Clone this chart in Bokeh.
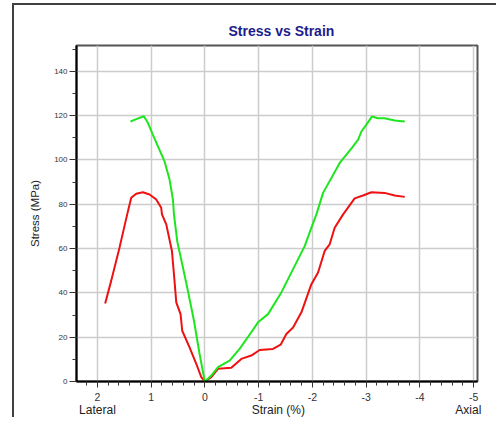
from bokeh.plotting import figure
from bokeh.models import Range1d, FixedTicker, LinearAxis
from bokeh.embed import file_html
from bokeh.resources import INLINE

# Data (strain %, stress MPa); positive strain = lateral, negative = axial
green_lat_x = [0.0, 0.007, 0.10, 0.205, 0.317, 0.423, 0.516, 0.577, 0.596, 0.659, 0.752, 0.875, 0.968, 1.06, 1.136, 1.28, 1.385]
green_lat_y = [0.0, 0.4, 12.4, 27.4, 40.9, 52.9, 63.3, 75.4, 82.1, 91.1, 99.3, 106.1, 111.3, 116.6, 119.7, 118.4, 117.3]

red_lat_x = [0.0, 0.069, 0.162, 0.287, 0.423, 0.454, 0.534, 0.577, 0.615, 0.72, 0.80, 0.814, 0.907, 1.03, 1.155, 1.279, 1.372, 1.447, 1.59, 1.745, 1.857]
red_lat_y = [0.0, 2.0, 8.0, 15.4, 22.9, 30.4, 35.7, 48.4, 58.9, 70.9, 75.4, 78.4, 82.1, 84.4, 85.4, 84.7, 82.9, 75.4, 60.4, 45.4, 35.2]

green_ax_x = [0.0, -0.117, -0.242, -0.458, -0.644, -0.862, -0.987, -1.173, -1.421, -1.639, -1.855, -1.98, -2.073, -2.197, -2.507, -2.73, -2.85, -2.91, -3.0, -3.108, -3.216, -3.34, -3.53, -3.717]
green_ax_y = [0.0, 2.7, 6.5, 9.4, 14.7, 22.2, 26.7, 30.4, 40.2, 50.7, 61.1, 69.4, 75.4, 85.1, 98.6, 105.3, 109.1, 112.8, 115.8, 119.6, 118.8, 118.8, 117.8, 117.3]

red_ax_x = [0.0, -0.117, -0.242, -0.49, -0.676, -0.862, -1.017, -1.266, -1.408, -1.514, -1.639, -1.794, -1.98, -2.104, -2.227, -2.32, -2.413, -2.57, -2.785, -2.94, -3.097, -3.34, -3.53, -3.717]
red_ax_y = [0.0, 2.0, 5.7, 6.2, 10.2, 11.7, 14.2, 14.7, 16.6, 21.4, 24.4, 31.2, 43.9, 49.2, 58.9, 61.9, 69.4, 75.4, 82.6, 83.9, 85.4, 85.1, 83.9, 83.3]

x_major = [2, 1, 0, -1, -2, -3, -4, -5]
x_major_labels = ["2", "1", "0", "-1", "-2", "-3", "-4", "-5"]
x_minor = [round(2.2 - 0.2 * i, 1) for i in range(37)]
y_major = [0, 20, 40, 60, 80, 100, 120, 140]
y_minor = [10, 30, 50, 70, 90, 110, 130, 150]

# bottom captions: (position in strain units, text)
caption_pos = [2.0, -1.365, -4.9]
caption_text = ["Lateral", "Strain (%)", "Axial"]

GREEN = "#1ee61e"
RED = "#ee1111"
FONT = "Liberation Sans"

p = figure(width=484, height=414, output_backend="svg", toolbar_location=None,
           x_range=Range1d(2.39, -5.07), y_range=Range1d(0, 151.6),
           min_border_left=62, min_border_right=21, min_border_top=40, min_border_bottom=37,
           title="Stress vs Strain",
           styles={"margin-left": "14px", "margin-top": "5px",
                   "box-shadow": "-2px -2px 0px 0px #404040"})

p.title.align = "left"
p.title.offset = 152
p.title.standoff = 13
p.title.text_font = FONT
p.title.text_font_size = "14px"
p.title.text_font_style = "bold"
p.title.text_color = "#1c1c8c"

p.outline_line_color = "#555555"
p.outline_line_width = 2
p.background_fill_color = "white"
p.border_fill_color = "white"

p.xaxis.ticker = FixedTicker(ticks=x_major, minor_ticks=x_minor)
p.xaxis.major_label_overrides = dict(zip(x_major, x_major_labels))
p.yaxis.ticker = FixedTicker(ticks=y_major, minor_ticks=y_minor)

for ax in (p.xaxis[0], p.yaxis[0]):
    ax.axis_line_color = "black"
    ax.axis_line_width = 2
    ax.major_tick_line_color = "#333333"
    ax.minor_tick_line_color = "#333333"
    ax.major_tick_in = 0
    ax.minor_tick_in = 0
    ax.major_label_text_font = FONT
    ax.major_label_text_color = "#333333"
    ax.axis_label_text_font = FONT
    ax.axis_label_text_font_style = "normal"
    ax.axis_label_text_color = "#222222"

p.xaxis.major_tick_out = 6
p.xaxis.minor_tick_out = 4
p.xaxis.major_label_text_font_size = "10.5px"
p.xaxis.major_label_standoff = 5

p.yaxis.major_tick_out = 7
p.yaxis.minor_tick_out = 4
p.yaxis.major_label_text_font_size = "8px"
p.yaxis.major_label_standoff = 2
p.yaxis.axis_label = "Stress (MPa)"
p.yaxis.axis_label_text_font_size = "11.5px"
p.yaxis.axis_label_standoff = 10

caption_axis = LinearAxis(ticker=FixedTicker(ticks=caption_pos, minor_ticks=[]),
                          major_label_overrides=dict(zip(caption_pos, caption_text)),
                          axis_line_color=None, major_tick_line_color=None,
                          minor_tick_line_color=None, major_tick_out=0, minor_tick_out=0,
                          major_label_standoff=-1,
                          major_label_text_font=FONT, major_label_text_font_size="12px",
                          major_label_text_color="#222222")
p.add_layout(caption_axis, "below")

p.xgrid.grid_line_color = "#cccccc"
p.ygrid.grid_line_color = "#cccccc"
p.xgrid.grid_line_width = 1.5
p.ygrid.grid_line_width = 1.5

p.line(red_lat_x, red_lat_y, line_color=RED, line_width=2)
p.line(red_ax_x, red_ax_y, line_color=RED, line_width=2)
p.line(green_lat_x, green_lat_y, line_color=GREEN, line_width=2)
p.line(green_ax_x, green_ax_y, line_color=GREEN, line_width=2)

open("out.html", "w").write(file_html(p, INLINE))
